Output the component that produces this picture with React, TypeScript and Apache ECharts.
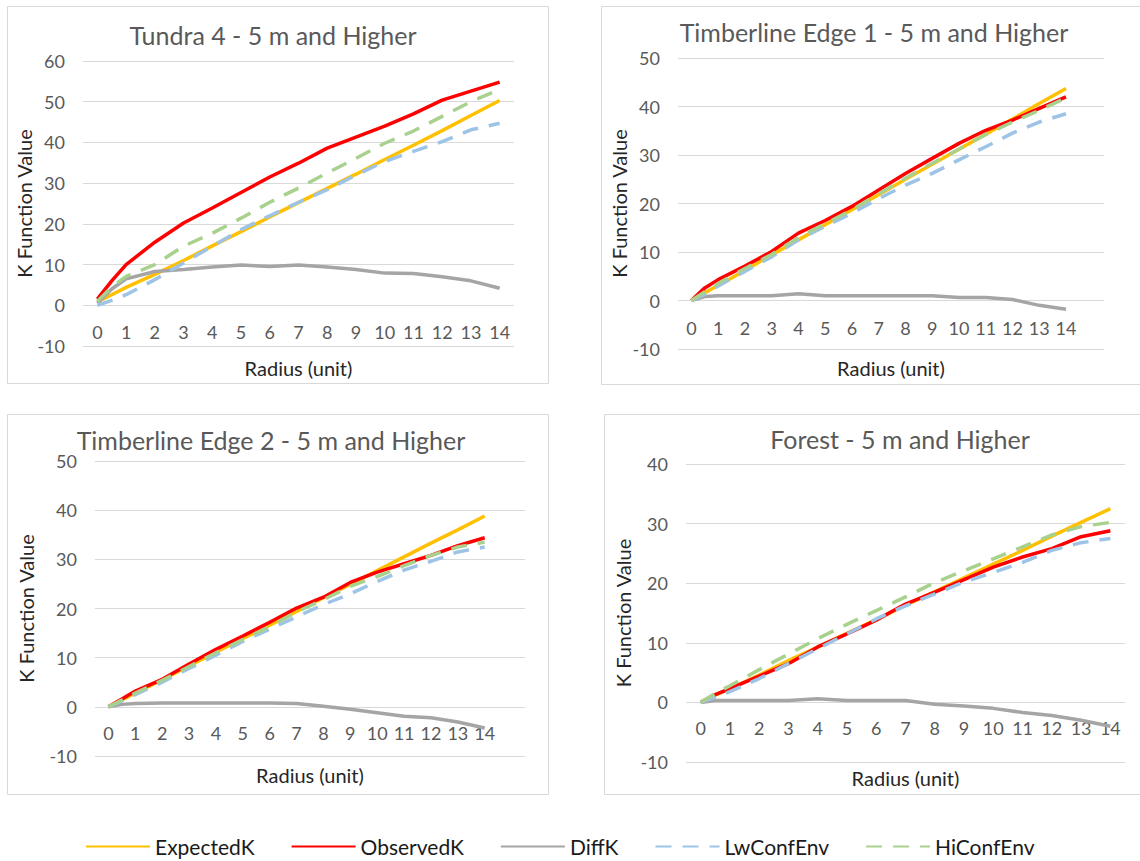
import React, { useEffect, useRef } from "react";
import * as echarts from "echarts";

// ---------- data ----------
const RADIUS = [0, 0.5, 1, 2, 3, 4, 5, 6, 7, 8, 9, 10, 11, 12, 13, 14];
const X_TICKS = [0, 1, 2, 3, 4, 5, 6, 7, 8, 9, 10, 11, 12, 13, 14];
const SERIES_NAMES = ["ExpectedK", "ObservedK", "DiffK", "LwConfEnv", "HiConfEnv"];
const PANEL_TITLES = [
  "Tundra 4 - 5 m and Higher",
  "Timberline Edge 1 - 5 m and Higher",
  "Timberline Edge 2 - 5 m and Higher",
  "Forest - 5 m and Higher",
];
const Y_MAX = [60, 50, 50, 40];

// Tundra 4
const tundraExpected = [0.8, 2.6, 4.4, 7.6, 11.0, 14.6, 18.1, 21.7, 25.2, 28.7, 32.2, 35.8, 39.3, 42.9, 46.6, 50.3];
const tundraObserved = [1.5, 6.0, 10.0, 15.5, 20.2, 23.9, 27.7, 31.5, 34.9, 38.6, 41.3, 44.0, 47.0, 50.4, 52.6, 54.8];
const tundraDiff = [0.5, 4.0, 6.5, 8.3, 8.8, 9.4, 9.9, 9.5, 9.9, 9.4, 8.8, 7.9, 7.8, 7.0, 6.0, 4.2];
const tundraLw = [0.0, 1.2, 2.6, 6.3, 10.4, 14.5, 18.6, 22.0, 25.3, 28.4, 32.0, 35.3, 37.8, 40.2, 43.1, 44.7];
const tundraHi = [1.0, 4.5, 7.1, 10.0, 14.5, 17.7, 21.4, 25.3, 28.8, 32.5, 36.1, 39.8, 42.8, 46.4, 50.0, 53.0];

// Timberline Edge 1
const te1Expected = [0, 1.6, 3.1, 6.2, 9.4, 12.5, 15.6, 18.7, 21.8, 25.0, 28.1, 31.2, 34.3, 37.4, 40.6, 43.7];
const te1Observed = [0, 2.6, 4.3, 7.1, 10.1, 13.9, 16.5, 19.4, 22.8, 26.2, 29.3, 32.4, 35.1, 37.2, 39.6, 42.0];
const te1Diff = [0, 0.8, 1.0, 1.0, 1.0, 1.4, 1.0, 1.0, 1.0, 1.0, 1.0, 0.6, 0.6, 0.2, -1.0, -1.8];
const te1Lw = [0, 1.3, 3.0, 6.0, 9.0, 12.5, 15.3, 18.0, 21.0, 23.8, 26.2, 29.0, 31.7, 34.5, 36.8, 38.5];
const te1Hi = [0, 1.8, 3.5, 6.6, 9.5, 13.0, 15.8, 18.7, 22.0, 25.2, 28.3, 31.2, 34.2, 36.8, 39.2, 41.8];

// Timberline Edge 2
const te2Expected = [0, 1.4, 2.8, 5.5, 8.3, 11.1, 13.9, 16.6, 19.4, 22.2, 24.9, 27.7, 30.5, 33.3, 36.0, 38.8];
const te2Observed = [0, 1.6, 3.2, 5.6, 8.7, 11.7, 14.4, 17.2, 20.1, 22.3, 25.3, 27.4, 29.1, 30.8, 32.8, 34.4];
const te2Diff = [0, 0.5, 0.7, 0.8, 0.8, 0.8, 0.8, 0.8, 0.7, 0.1, -0.5, -1.2, -1.9, -2.2, -3.1, -4.3];
const te2Lw = [0, 1.2, 2.5, 5.0, 7.8, 10.5, 13.3, 15.8, 18.3, 20.8, 23.0, 25.5, 27.8, 29.6, 31.5, 32.5];
const te2Hi = [0, 1.4, 2.8, 5.4, 8.2, 11.0, 13.7, 16.3, 19.3, 21.8, 24.5, 26.5, 28.7, 30.8, 32.5, 33.5];

// Forest
const forestExpected = [0, 1.2, 2.3, 4.6, 7.0, 9.3, 11.6, 13.9, 16.3, 18.6, 20.9, 23.2, 25.5, 27.9, 30.2, 32.5];
const forestObserved = [0, 1.3, 2.3, 4.4, 6.5, 9.3, 11.5, 13.8, 16.5, 18.5, 20.6, 22.7, 24.4, 25.8, 27.8, 28.8];
const forestDiff = [0, 0.3, 0.3, 0.3, 0.3, 0.6, 0.3, 0.3, 0.3, -0.3, -0.6, -1.0, -1.7, -2.2, -3.0, -4.0];
const forestLw = [0, 0.9, 1.8, 4.0, 6.5, 9.0, 11.5, 14.0, 16.2, 18.2, 20.2, 21.8, 23.5, 25.5, 26.8, 27.5];
const forestHi = [0, 1.5, 2.8, 5.5, 8.1, 10.7, 13.1, 15.4, 17.7, 20.1, 22.1, 24.1, 26.1, 28.1, 29.5, 30.2];

const PANEL_DATA = [
  [tundraExpected, tundraObserved, tundraDiff, tundraLw, tundraHi],
  [te1Expected, te1Observed, te1Diff, te1Lw, te1Hi],
  [te2Expected, te2Observed, te2Diff, te2Lw, te2Hi],
  [forestExpected, forestObserved, forestDiff, forestLw, forestHi],
];

// ---------- styles / layout ----------
const COLORS = ["#FFC000", "#FF0000", "#A5A5A5", "#9DC3E6", "#A9D18E"];
const DASHED = [false, false, false, true, true];
const FONT = "Lato";

const LAYOUT = [
  { grid: { left: 83, top: 61, width: 431, height: 285 }, xMax: 14.5, yGap: 47, xGap: 12, labelMargin: -23,
    box: { x: 7, y: 6, w: 541, h: 377 }, title: { x: 273, y: 35 } },
  { grid: { left: 678, top: 58, width: 426, height: 291 }, xMax: 15.42, yGap: 47, xGap: 9, labelMargin: -30,
    box: { x: 601, y: 6, w: 560, h: 378 }, title: { x: 874, y: 32 } },
  { grid: { left: 95, top: 461, width: 430, height: 295 }, xMax: 15.5, yGap: 59, xGap: 9, labelMargin: -32,
    box: { x: 7, y: 414, w: 541, h: 380 }, title: { x: 271, y: 440 } },
  { grid: { left: 686, top: 464, width: 439, height: 298 }, xMax: 14.5, yGap: 53, xGap: 6, labelMargin: -43,
    box: { x: 604, y: 414, w: 560, h: 380 }, title: { x: 900, y: 439 } },
];

function buildOption() {
  const grid: any[] = [];
  const xAxis: any[] = [];
  const yAxis: any[] = [];
  const series: any[] = [];
  const graphic: any[] = [];

  LAYOUT.forEach((L, i) => {
    grid.push({ ...L.grid, containLabel: false });
    xAxis.push({
      gridIndex: i,
      type: "value",
      min: -0.5,
      max: L.xMax,
      interval: 0.5,
      axisLine: { show: false, onZero: false },
      axisTick: { show: false },
      splitLine: { show: false },
      axisLabel: {
        color: "#595959",
        fontSize: 18,
        fontFamily: FONT,
        margin: L.labelMargin,
        formatter: (v: number) => (X_TICKS.includes(v) ? String(v) : ""),
      },
      name: "Radius (unit)",
      nameLocation: "middle",
      nameGap: L.xGap,
      nameTextStyle: { color: "#262626", fontSize: 20, fontFamily: FONT },
    });
    yAxis.push({
      gridIndex: i,
      type: "value",
      min: -10,
      max: Y_MAX[i],
      interval: 10,
      axisLine: { show: false, onZero: false },
      axisTick: { show: false },
      splitLine: { show: true, lineStyle: { color: "#D9D9D9", width: 1 } },
      axisLabel: { color: "#595959", fontSize: 18, fontFamily: FONT, margin: 18 },
      name: "K Function Value",
      nameLocation: "middle",
      nameGap: L.yGap,
      nameTextStyle: { color: "#262626", fontSize: 20, fontFamily: FONT },
    });
    PANEL_DATA[i].forEach((vals, s) => {
      series.push({
        type: "line",
        name: SERIES_NAMES[s],
        xAxisIndex: i,
        yAxisIndex: i,
        data: RADIUS.map((r, k) => [r, vals[k]]),
        symbol: "none",
        showSymbol: false,
        smooth: false,
        color: COLORS[s],
        lineStyle: {
          color: COLORS[s],
          width: 3.5,
          type: DASHED[s] ? [16, 11] : "solid",
        },
        emphasis: { disabled: true },
      });
    });
    graphic.push({
      type: "rect",
      z: -10,
      silent: true,
      shape: { x: L.box.x + 0.5, y: L.box.y + 0.5, width: L.box.w, height: L.box.h },
      style: { fill: "none", stroke: "#D9D9D9", lineWidth: 1 },
    });
    graphic.push({
      type: "text",
      silent: true,
      x: L.title.x,
      y: L.title.y,
      style: {
        text: PANEL_TITLES[i],
        fill: "#595959",
        font: `25px ${FONT}`,
        textAlign: "center",
        textVerticalAlign: "middle",
      },
    });
  });

  return {
    animation: false,
    backgroundColor: "#FFFFFF",
    grid,
    xAxis,
    yAxis,
    series,
    graphic,
    legend: {
      data: SERIES_NAMES,
      left: 85,
      top: 836,
      padding: 0,
      itemWidth: 64,
      itemHeight: 14,
      itemGap: 36,
      selectedMode: false,
      itemStyle: { opacity: 0 },
      textStyle: { color: "#1A1A1A", fontSize: 21, fontFamily: FONT },
    },
  };
}

export default function App() {
  const ref = useRef<HTMLDivElement>(null);
  useEffect(() => {
    if (!ref.current) return;
    const chart = echarts.init(ref.current, undefined, { renderer: "svg" });
    chart.setOption(buildOption() as any);
    return () => chart.dispose();
  }, []);
  return (
    <div
      ref={ref}
      style={{ position: "absolute", left: 0, top: 0, width: 1140, height: 861 }}
    />
  );
}
